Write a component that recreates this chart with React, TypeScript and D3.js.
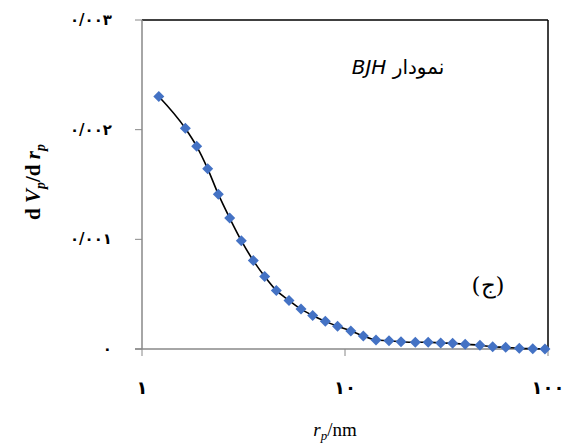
import React from "react";
import * as d3 from "d3";

// Pore radius r_p (nm) and dV_p/dr_p values of the BJH distribution
const poreRadius = [
  1.21, 1.635, 1.86, 2.107, 2.376, 2.704, 3.085, 3.534, 4.022, 4.587, 5.3, 6.07, 6.93, 8.0, 9.19,
  10.68, 12.31, 14.21, 16.47, 18.88, 22.2, 25.7, 29.6, 33.9, 39.1, 46.2, 53.4, 61.9, 72.2, 84.1, 96.6,
];
const dVdr = [
  0.002303, 0.002012, 0.001848, 0.001643, 0.001412, 0.001194, 0.000988, 0.000806, 0.000661,
  0.000534, 0.000443, 0.000364, 0.000306, 0.000252, 0.000207, 0.000165, 0.000118, 0.000082,
  0.000075, 0.000066, 0.000061, 0.000061, 0.000055, 0.000052, 0.000043, 0.000034, 0.000021,
  0.000015, 0.000006, 0.000003, 0.0,
];
const yTicks = [0, 0.001, 0.002, 0.003];
const yTickLabels = ["۰", "۰/۰۰۱", "۰/۰۰۲", "۰/۰۰۳"];
const xTicks = [1, 10, 100];
const xTickLabels = ["۱", "۱۰", "۱۰۰"];

const W = 564;
const H = 443;
const left = 142;
const right = 548;
const top = 20;
const bottom = 349;

export default function App() {
  const x = d3.scaleLog().domain([1, 100]).range([left, right]);
  const y = d3.scaleLinear().domain([0, 0.003]).range([bottom, top]);
  const pts = poreRadius.map((r, i) => [x(r), y(dVdr[i])] as [number, number]);
  const line = d3.line().curve(d3.curveMonotoneX)(pts) || "";
  const diamond = (cx: number, cy: number, s: number) =>
    `M${cx},${cy - s}L${cx + s},${cy}L${cx},${cy + s}L${cx - s},${cy}Z`;

  return (
    <svg
      width={W}
      height={H}
      style={{ position: "absolute", left: 0, top: 0, background: "#fff" }}
    >
      {/* frame: black top and right, grey axes */}
      <line x1={left} y1={top} x2={right} y2={top} stroke="#000" strokeWidth={1.5} />
      <line x1={right} y1={top} x2={right} y2={bottom} stroke="#000" strokeWidth={1.5} />
      <line x1={left} y1={top} x2={left} y2={bottom} stroke="#888" strokeWidth={1.5} />
      <line x1={left - 7} y1={bottom} x2={right} y2={bottom} stroke="#888" strokeWidth={1.5} />

      {yTicks.map((t, i) => (
        <g key={"y" + i}>
          <line x1={left - 7} x2={left} y1={y(t)} y2={y(t)} stroke="#888" strokeWidth={1} />
          <text
            x={112}
            y={y(t) + 5}
            textAnchor="end"
            fontFamily="DejaVu Sans"
            fontWeight="bold"
            fontSize={15}
            fill="#000"
          >
            {yTickLabels[i]}
          </text>
        </g>
      ))}
      {xTicks.map((t, i) => (
        <g key={"x" + i}>
          <line x1={x(t)} x2={x(t)} y1={bottom} y2={bottom + 7} stroke="#888" strokeWidth={1} />
          <text
            x={x(t)}
            y={394}
            textAnchor="middle"
            fontFamily="DejaVu Sans"
            fontWeight="bold"
            fontSize={18}
            fill="#000"
          >
            {xTickLabels[i]}
          </text>
        </g>
      ))}

      <path d={line} fill="none" stroke="#000" strokeWidth={1.6} />
      {pts.map(([px, py], i) => (
        <path key={i} d={diamond(px, py, 5.5)} fill="#4472C4" />
      ))}

      {/* axis titles */}
      <text
        transform="translate(40,182) rotate(-90)"
        textAnchor="middle"
        fontFamily="Liberation Serif"
        fontWeight="bold"
        fontSize={21}
        fill="#000"
      >
        d <tspan fontStyle="italic">V</tspan>
        <tspan fontStyle="italic" fontSize={14} dy={5}>p</tspan>
        <tspan dy={-5}>/d </tspan>
        <tspan fontStyle="italic">r</tspan>
        <tspan fontStyle="italic" fontSize={14} dy={5}>p</tspan>
      </text>
      <text x={335} y={436} textAnchor="middle" fontFamily="Liberation Serif" fontSize={19} fill="#000">
        <tspan fontStyle="italic">r</tspan>
        <tspan fontStyle="italic" fontSize={13} dy={4}>p</tspan>
        <tspan dy={-4}>/nm</tspan>
      </text>

      <text x={398} y={74} textAnchor="middle" fontFamily="DejaVu Sans" fontSize={20} fill="#000" direction="rtl">
        نمودار <tspan fontStyle="italic">BJH</tspan>
      </text>
      <text x={488} y={293} textAnchor="middle" fontFamily="DejaVu Serif" fontSize={23} fill="#000">
        (ج)
      </text>
    </svg>
  );
}
